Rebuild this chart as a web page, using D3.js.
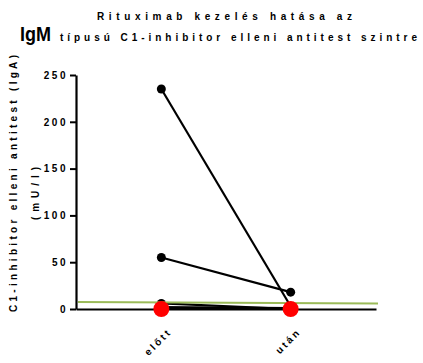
<!DOCTYPE html>
<html>
<head>
<meta charset="utf-8">
<script src="https://cdn.jsdelivr.net/npm/d3@7"></script>
<style>
  body { margin: 0; background: #fff; }
  text { font-family: "Liberation Sans", Arial, sans-serif; font-weight: bold; }
</style>
</head>
<body>
<svg id="chart" width="423" height="363"></svg>
<script>
// **** Data
const categories = ["előtt", "után"];
const beforeValues = [235, 55, 6, 2, 1, 0];
const afterValues = [3, 18, 0, 1, 0, 0];
const medianValues = [0, 0];
const cutoffLine = [7.5, 6];
const yTicks = [0, 50, 100, 150, 200, 250];

const svg = d3.select("#chart");

// **** Scales
const x = d3.scalePoint().domain(categories).range([76, 376]).padding(0.66);
const y = d3.scaleLinear().domain([0, 250]).range([309, 75]);

// **** Title
svg.append("text")
  .attr("x", 97).attr("y", 20)
  .attr("font-size", 10)
  .attr("textLength", 255).attr("lengthAdjust", "spacing")
  .text("Rituximab kezelés hatása az");

svg.append("text")
  .attr("x", 20).attr("y", 41)
  .attr("font-size", 20)
  .attr("textLength", 31).attr("lengthAdjust", "spacingAndGlyphs")
  .text("IgM");

svg.append("text")
  .attr("x", 60).attr("y", 41)
  .attr("font-size", 10)
  .attr("textLength", 357).attr("lengthAdjust", "spacing")
  .text("típusú C1-inhibitor elleni antitest szintre");

// **** Y axis label
svg.append("text")
  .attr("transform", "translate(17,312) rotate(-90)")
  .attr("font-size", 10)
  .attr("textLength", 257).attr("lengthAdjust", "spacing")
  .text("C1-inhibitor elleni antitest (IgA)");

svg.append("text")
  .attr("transform", "translate(39,220) rotate(-90)")
  .attr("font-size", 10)
  .attr("textLength", 53).attr("lengthAdjust", "spacing")
  .text("(mU/l)");

// **** Axes
const yAxis = svg.append("g")
  .attr("transform", "translate(76,0)")
  .call(d3.axisLeft(y).tickValues(yTicks).tickSize(6).tickSizeOuter(0).tickPadding(4));
yAxis.select(".domain").attr("stroke-width", 2.2);
yAxis.selectAll(".tick line").attr("stroke-width", 2);
yAxis.selectAll(".tick text")
  .attr("font-size", 10)
  .attr("font-family", "Liberation Sans, Arial, sans-serif")
  .attr("font-weight", "bold")
  .style("letter-spacing", "2.5px")
  .attr("dx", 2);

const xAxis = svg.append("g")
  .attr("transform", "translate(0,309)")
  .call(d3.axisBottom(x).tickSize(0).tickSizeOuter(0));
xAxis.select(".domain").attr("stroke-width", 2.2);
xAxis.selectAll(".tick text")
  .attr("font-size", 10)
  .attr("font-family", "Liberation Sans, Arial, sans-serif")
  .attr("font-weight", "bold")
  .style("letter-spacing", "2.5px")
  .attr("text-anchor", "end")
  .attr("transform", "translate(8,21) rotate(-45)")
  .attr("y", 0).attr("dy", "0.35em");

// **** Paired lines
const pairs = beforeValues.map((b, i) => [b, afterValues[i]]);
svg.append("g").selectAll("line")
  .data(pairs)
  .join("line")
  .attr("x1", x(categories[0])).attr("y1", d => y(d[0]))
  .attr("x2", x(categories[1])).attr("y2", d => y(d[1]))
  .attr("stroke", "#000").attr("stroke-width", 2.2);

const dots = [];
pairs.forEach(d => {
  dots.push([categories[0], d[0]]);
  dots.push([categories[1], d[1]]);
});
svg.append("g").selectAll("circle")
  .data(dots)
  .join("circle")
  .attr("cx", d => x(d[0])).attr("cy", d => y(d[1]))
  .attr("r", 4.5).attr("fill", "#000");

// **** Green reference line
svg.append("line")
  .attr("x1", 78).attr("y1", y(cutoffLine[0]))
  .attr("x2", 378).attr("y2", y(cutoffLine[1]))
  .attr("stroke", "#9bbb59").attr("stroke-width", 2);

// **** Red median points
svg.append("g").selectAll("circle")
  .data(medianValues)
  .join("circle")
  .attr("cx", (d, i) => x(categories[i])).attr("cy", d => y(d))
  .attr("r", 8).attr("fill", "#ff0000");
</script>
</body>
</html>
